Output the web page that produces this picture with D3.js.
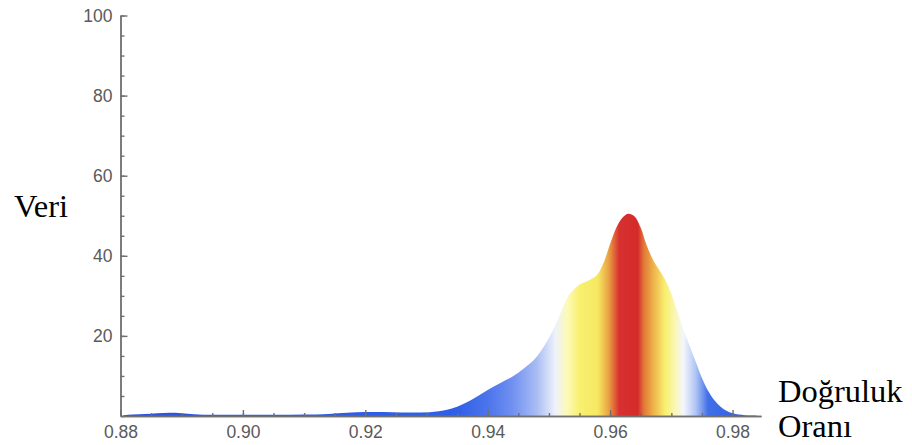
<!DOCTYPE html>
<html>
<head>
<meta charset="utf-8">
<script src="https://cdn.jsdelivr.net/npm/d3@7"></script>
<style>
  body { margin: 0; background: #fff; }
  .tick text { font-family: "Liberation Sans", Arial, sans-serif; font-size: 17.5px; fill: #5a5a5a; }
  .axis path, .axis line { stroke: #707070; stroke-width: 1.4; }
  .title { font-family: "Liberation Serif", "Times New Roman", serif; font-size: 32.5px; fill: #000; }
</style>
</head>
<body>
<div id="chart"></div>
<script>
// Accuracy values (x) and density (y)
const accuracy = [0.8805, 0.882, 0.884, 0.886, 0.888, 0.890, 0.892, 0.895, 0.900, 0.905,
                  0.910, 0.914, 0.917, 0.920, 0.923, 0.926, 0.929, 0.932, 0.934, 0.936,
                  0.938, 0.940, 0.942, 0.944, 0.946, 0.948, 0.950, 0.951, 0.952, 0.953,
                  0.954, 0.955, 0.956, 0.957, 0.958, 0.959, 0.960, 0.961, 0.962, 0.963,
                  0.964, 0.965, 0.966, 0.967, 0.968, 0.969, 0.970, 0.971, 0.972, 0.973,
                  0.974, 0.975, 0.976, 0.977, 0.978, 0.979, 0.980, 0.981, 0.982, 0.983, 0.984];
const density  = [0.2, 0.35, 0.5, 0.7, 0.8, 0.7, 0.45, 0.3, 0.3, 0.3,
                  0.35, 0.5, 0.8, 1.0, 1.0, 0.9, 0.9, 1.2, 1.8, 3.0,
                  4.6, 6.5, 8.2, 9.8, 12.0, 14.8, 19.5, 22.5, 26.0, 29.5,
                  31.5, 32.8, 33.5, 34.3, 35.5, 38.5, 43.0, 47.0, 49.5, 50.5,
                  49.8, 47.0, 42.5, 39.0, 36.5, 34.0, 30.5, 26.0, 21.5, 17.5,
                  13.5, 9.5, 6.3, 4.0, 2.4, 1.3, 0.7, 0.35, 0.2, 0.1, 0.05];

const xMajorTicks = [0.88, 0.90, 0.92, 0.94, 0.96, 0.98];
const yMajorTicks = [20, 40, 60, 80, 100];

// Colour bands along the x axis (value -> colour)
const colorStops = [
  [0.880, "#2a52e0"], [0.935, "#3060e8"], [0.940, "#4c74ec"], [0.944, "#7090f0"],
  [0.948, "#a8bcf4"], [0.951, "#eef1fc"], [0.953, "#fcfab8"], [0.955, "#f8f070"],
  [0.958, "#f6e862"], [0.9598, "#e8a042"], [0.9615, "#d83030"], [0.9645, "#d42a2a"],
  [0.9655, "#e07838"], [0.967, "#eeb048"], [0.969, "#f8f070"], [0.9705, "#faf6b0"],
  [0.972, "#f4f6fc"], [0.974, "#b0c4f4"], [0.976, "#4070e8"], [0.985, "#2a52e0"]
];

const W = 912, H = 445;
const svg = d3.select("#chart").append("svg")
              .attr("width", W)
              .attr("height", H);

const x = d3.scaleLinear().domain([0.88, 0.98465]).range([120.5, 761]);
const y = d3.scaleLinear().domain([0, 100]).range([416, 15.5]);

// gradient across x
const grad = svg.append("defs").append("linearGradient")
                .attr("id", "band")
                .attr("gradientUnits", "userSpaceOnUse")
                .attr("x1", x(0.88)).attr("x2", x(0.985))
                .attr("y1", 0).attr("y2", 0);
grad.selectAll("stop")
    .data(colorStops)
    .join("stop")
    .attr("offset", d => (d[0] - 0.88) / (0.985 - 0.88))
    .attr("stop-color", d => d[1]);

const pts = accuracy.map((a, i) => ({a: a, v: density[i]}));

const area = d3.area()
               .x(d => x(d.a))
               .y0(y(0))
               .y1(d => y(d.v))
               .curve(d3.curveMonotoneX);

svg.append("path")
   .datum(pts)
   .attr("d", area)
   .attr("fill", "url(#band)");

// minor ticks
const xMinor = d3.range(0.88, 0.9846, 0.005);
svg.append("g")
   .attr("class", "axis")
   .attr("transform", `translate(0,${y(0)})`)
   .call(d3.axisBottom(x).tickValues(xMinor).tickSize(-3).tickSizeOuter(0).tickFormat(""));

svg.append("g")
   .attr("class", "axis")
   .attr("transform", `translate(0,${y(0)})`)
   .call(d3.axisBottom(x).tickValues(xMajorTicks).tickSize(-6).tickSizeOuter(0)
           .tickPadding(10).tickFormat(d3.format(".2f")));

const yMinor = d3.range(0, 101, 5);
svg.append("g")
   .attr("class", "axis")
   .attr("transform", `translate(${x(0.88)},0)`)
   .call(d3.axisLeft(y).tickValues(yMinor).tickSize(-4).tickSizeOuter(0).tickFormat(""));

svg.append("g")
   .attr("class", "axis")
   .attr("transform", `translate(${x(0.88)},0)`)
   .call(d3.axisLeft(y).tickValues(yMajorTicks).tickSize(-7).tickSizeOuter(0).tickPadding(8));

// axis titles
svg.append("text").attr("class", "title")
   .attr("x", 14).attr("y", 217)
   .text("Veri");

svg.append("text").attr("class", "title")
   .attr("x", 778).attr("y", 402)
   .text("Doğruluk");

svg.append("text").attr("class", "title")
   .attr("x", 778).attr("y", 437)
   .text("Oranı");
</script>
</body>
</html>
